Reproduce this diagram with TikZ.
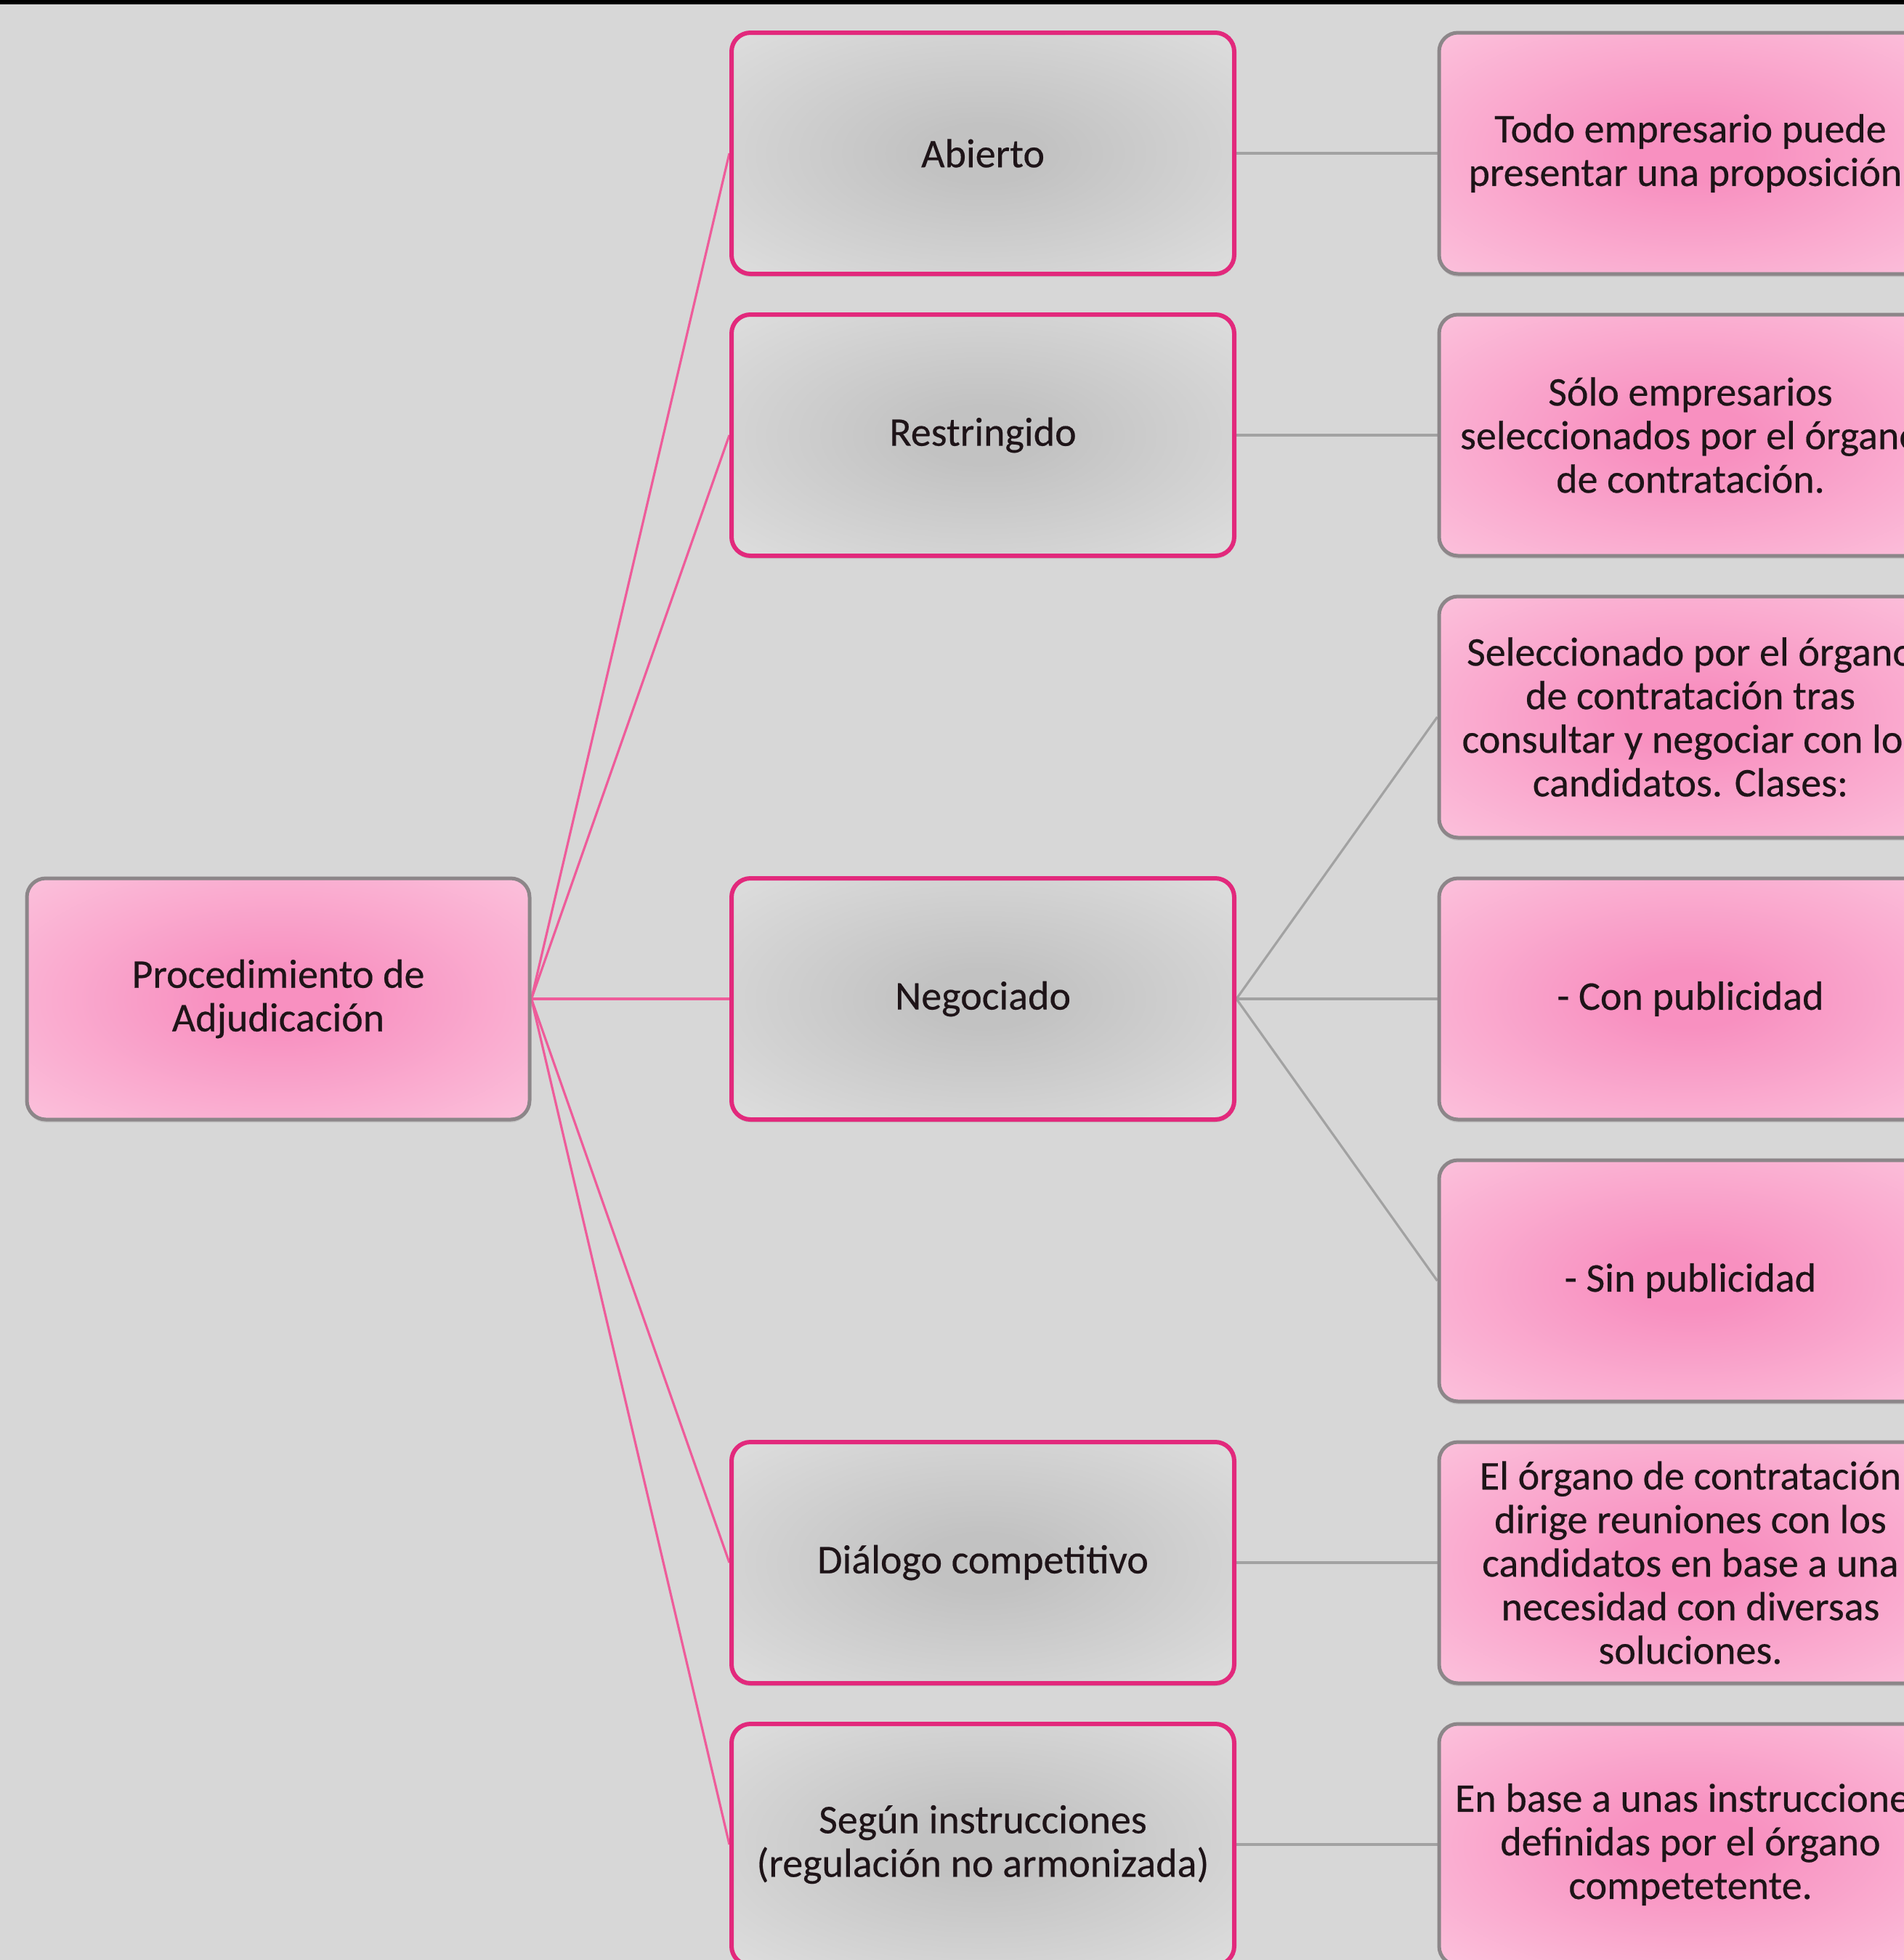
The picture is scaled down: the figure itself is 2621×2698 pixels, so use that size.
\documentclass[tikz,border=0pt]{standalone}
\usepackage{fontspec}
\setmainfont{Carlito}[UprightFeatures={FakeBold=0.35}]
\usetikzlibrary{backgrounds,shadows}
\definecolor{bg}{HTML}{D7D7D7}
\definecolor{magb}{HTML}{E2297C}
\definecolor{pinkline}{HTML}{EE5C9A}
\definecolor{grayb}{HTML}{8C8689}
\definecolor{grayline}{HTML}{A2A2A2}
\definecolor{pinkc}{HTML}{F890C0}
\definecolor{pinko}{HTML}{FDD9E9}
\definecolor{grayc}{HTML}{C2C2C2}
\definecolor{grayo}{HTML}{EBEBEB}
\definecolor{txt}{HTML}{1E1418}
\pgfdeclareradialshading{pinkshade}{\pgfpoint{0bp}{0bp}}{color(0bp)=(pinkc); color(6bp)=(pinkc); color(50bp)=(pinko); color(80bp)=(pinko)}
\pgfdeclareradialshading{grayshade}{\pgfpoint{0bp}{0bp}}{color(0bp)=(grayc); color(6bp)=(grayc); color(50bp)=(grayo); color(80bp)=(grayo)}
\tikzset{
  base/.style={rounded corners=13pt, minimum width=346pt, minimum height=166pt,
    align=center, font=\fontsize{28}{30}\selectfont, text=txt, inner sep=0pt},
  midbox/.style={base, draw=magb, line width=3pt, shading=grayshade,
    drop shadow={shadow xshift=0pt, shadow yshift=-2pt, opacity=0.25}},
  pinkbox/.style={base, draw=grayb, line width=2.5pt, shading=pinkshade,
    drop shadow={shadow xshift=0pt, shadow yshift=-2pt, opacity=0.25}},
  pinkconn/.style={draw=pinkline, line width=1.6pt},
  grayconn/.style={draw=grayline, line width=1.6pt},
}
\begin{document}
\begin{tikzpicture}[x=0.5pt, y=-0.5pt]
\useasboundingbox (0,0) rectangle (2621,2698);
\clip (0,0) rectangle (2621,2698);
\fill[black] (0,0) rectangle (2621,6);

\node[pinkbox] (root) at (383,1375) {Procedimiento de\\Adjudicación};

\node[midbox] (ab) at (1353,211) {Abierto};
\node[midbox] (re) at (1353,599) {Restringido};
\node[midbox] (ne) at (1353,1375) {Negociado};
\node[midbox] (di) at (1353,2151) {Diálogo competitivo};
\node[midbox] (se) at (1353,2539) {Según instrucciones\\(regulación no armonizada)};

\node[pinkbox] (t1) at (2327,211) {Todo empresario puede\\presentar una proposición.};
\node[pinkbox] (t2) at (2327,599) {Sólo empresarios\\seleccionados por el órgano\\de contratación.};
\node[pinkbox] (t3) at (2327,987) {Seleccionado por el órgano\\de contratación tras\\consultar y negociar con los\\candidatos. Clases:};
\node[pinkbox] (t4) at (2327,1375) {- Con publicidad};
\node[pinkbox] (t5) at (2327,1763) {- Sin publicidad};
\node[pinkbox] (t6) at (2327,2151) {El órgano de contratación\\dirige reuniones con los\\candidatos en base a una\\necesidad con diversas\\soluciones.};
\node[pinkbox] (t7) at (2327,2539) {En base a unas instrucciones\\definidas por el órgano\\competetente.};

\begin{scope}[on background layer]
\fill[bg] (0,6) rectangle (2621,2698);
\draw[pinkconn] (root.east) -- (ab.west);
\draw[pinkconn] (root.east) -- (re.west);
\draw[pinkconn] (root.east) -- (ne.west);
\draw[pinkconn] (root.east) -- (di.west);
\draw[pinkconn] (root.east) -- (se.west);
\draw[grayconn] (ab.east) -- (t1.west);
\draw[grayconn] (re.east) -- (t2.west);
\draw[grayconn] (ne.east) -- (t3.west);
\draw[grayconn] (ne.east) -- (t4.west);
\draw[grayconn] (ne.east) -- (t5.west);
\draw[grayconn] (di.east) -- (t6.west);
\draw[grayconn] (se.east) -- (t7.west);
\end{scope}
\end{tikzpicture}
\end{document}
